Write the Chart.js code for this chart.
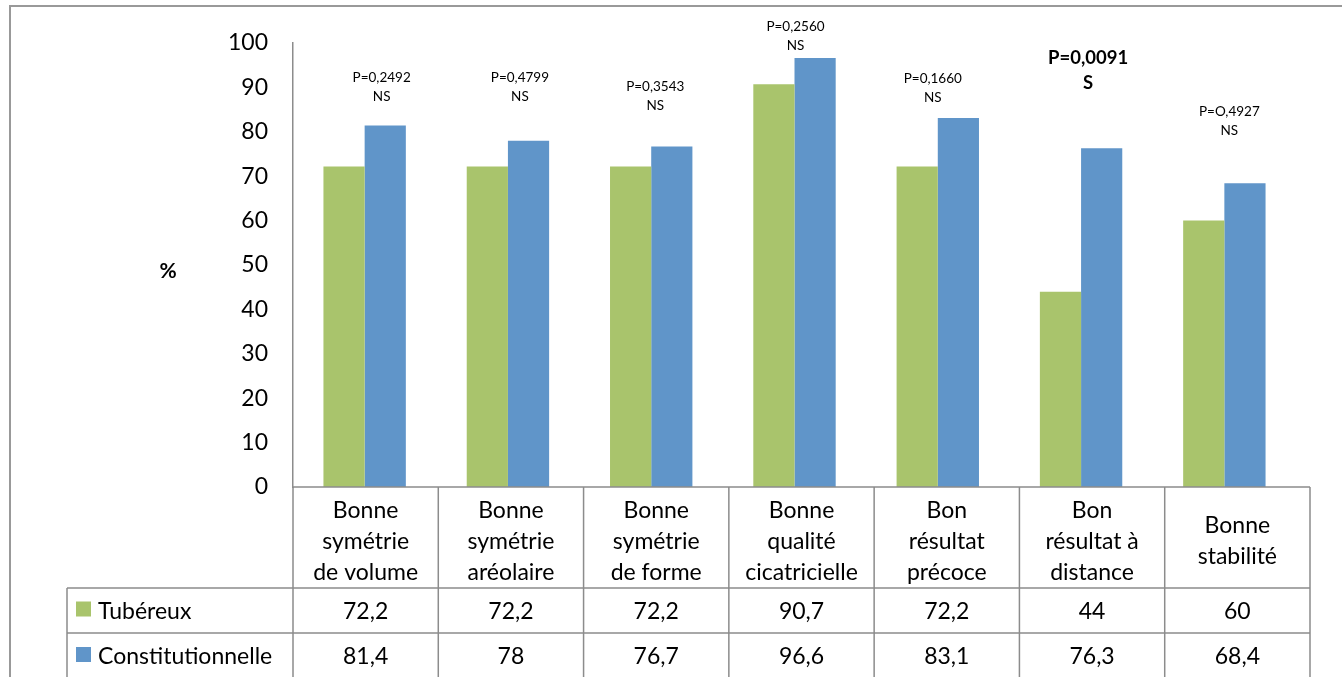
<!DOCTYPE html>
<html>
<head>
<meta charset="utf-8">
<script src="https://cdn.jsdelivr.net/npm/chart.js@4"></script>
<style>
html,body{margin:0;padding:0;background:#fff;}
#wrap{position:relative;width:1342px;height:677px;}
</style>
</head>
<body>
<div id="wrap"><canvas id="c" width="1342" height="677"></canvas></div>
<script>
const categories = [
  ["Bonne","symétrie","de volume"],
  ["Bonne","symétrie","aréolaire"],
  ["Bonne","symétrie","de forme"],
  ["Bonne","qualité","cicatricielle"],
  ["Bon","résultat","précoce"],
  ["Bon","résultat à","distance"],
  ["Bonne","stabilité"]
];
const seriesNames = ["Tubéreux", "Constitutionnelle"];
const tubereux = [72.2, 72.2, 72.2, 90.7, 72.2, 44, 60];
const constitutionnelle = [81.4, 78, 76.7, 96.6, 83.1, 76.3, 68.4];
const pValues = ["P=0,2492","P=0,4799","P=0,3543","P=0,2560","P=0,1660","P=0,0091","P=O,4927"];
const significance = ["NS","NS","NS","NS","NS","S","NS"];
const significant = [false,false,false,false,false,true,false];
const yTicks = [0,10,20,30,40,50,60,70,80,90,100];

// annotation placement (value units for y, px offsets for x)
const annotY = [92.1, 92.1, 90.1, 103.6, 91.9, 96.6, 84.5];
const annotDx = [17, 12, 4, 1, -5, 7, 5];

const GREEN = '#A9C46C';
const BLUE = '#6095C9';
const FONT = 'Lato, "Open Sans", "Liberation Sans", sans-serif';
const LINE = '#8c8c8c';

const fmt = v => String(v).replace('.', ',');

const tablePlugin = {
  id: 'tablePlugin',
  afterDraw(chart) {
    const ctx = chart.ctx;
    const x = chart.scales.x, y = chart.scales.y;
    const ca = chart.chartArea;
    const n = categories.length;
    const tLeft = ca.left, tRight = 1310;
    const colW = (tRight - tLeft) / n;
    const top = ca.bottom;
    const rowLab = top + 101;
    const row1 = rowLab + 45;
    const bottom = 700;
    const legLeft = 67;
    ctx.save();
    // outer border
    ctx.strokeStyle = '#999';
    ctx.lineWidth = 2;
    ctx.beginPath();
    ctx.moveTo(10, 700); ctx.lineTo(10, 6); ctx.lineTo(1345, 6);
    ctx.stroke();

    ctx.strokeStyle = LINE;
    ctx.lineWidth = 1.5;
    ctx.beginPath();
    ctx.moveTo(tLeft, top); ctx.lineTo(tRight, top);
    ctx.moveTo(legLeft, rowLab); ctx.lineTo(tRight, rowLab);
    ctx.moveTo(legLeft, row1); ctx.lineTo(tRight, row1);
    ctx.moveTo(legLeft, rowLab); ctx.lineTo(legLeft, bottom);
    for (let i = 0; i <= n; i++) {
      const xx = tLeft + i * colW;
      ctx.moveTo(xx, top); ctx.lineTo(xx, bottom);
    }
    ctx.stroke();

    // category labels
    ctx.fillStyle = '#000';
    ctx.textAlign = 'center';
    ctx.textBaseline = 'middle';
    ctx.font = '23px ' + FONT;
    const lh = 31;
    categories.forEach((lines, i) => {
      const cx = tLeft + (i + 0.5) * colW;
      const midY = (top + rowLab) / 2 + 4;
      const startY = midY - (lines.length - 1) * lh / 2;
      lines.forEach((t, k) => ctx.fillText(t, cx, startY + k * lh));
    });
    // values
    const series = [tubereux, constitutionnelle];
    const rowsY = [(rowLab + row1) / 2 + 1, row1 + 24];
    series.forEach((vals, s) => {
      vals.forEach((v, i) => {
        const cx = tLeft + (i + 0.5) * colW;
        ctx.fillText(fmt(v), cx, rowsY[s]);
      });
    });
    // legend keys
    const cols = [GREEN, BLUE];
    ctx.textAlign = 'left';
    seriesNames.forEach((name, s) => {
      ctx.fillStyle = cols[s];
      ctx.fillRect(76, rowsY[s] - 10, 15, 15);
      ctx.fillStyle = '#000';
      ctx.fillText(name, 98, rowsY[s]);
    });

    // % label
    ctx.textAlign = 'center';
    ctx.font = 'bold 21px ' + FONT;
    ctx.fillText('%', 168, (ca.top + ca.bottom) / 2 + 6);

    // p-value annotations
    pValues.forEach((p, i) => {
      const cx = x.getPixelForValue(i) + annotDx[i];
      const py = y.getPixelForValue(annotY[i]);
      if (significant[i]) {
        ctx.font = 'bold 18.5px ' + FONT;
        ctx.fillText(p, cx, py);
        ctx.fillText(significance[i], cx, py + 25);
      } else {
        ctx.font = '13.5px ' + FONT;
        ctx.fillText(p, cx, py);
        ctx.fillText(significance[i], cx, py + 19);
      }
    });
    ctx.restore();
  }
};

new Chart(document.getElementById('c'), {
  type: 'bar',
  data: {
    labels: categories,
    datasets: [
      { label: seriesNames[0], data: tubereux, backgroundColor: GREEN, borderWidth: 0 },
      { label: seriesNames[1], data: constitutionnelle, backgroundColor: BLUE, borderWidth: 0 }
    ]
  },
  options: {
    responsive: false,
    animation: false,
    layout: { padding: { left: 0, right: 46, top: 43, bottom: 190 } },
    plugins: { legend: { display: false }, tooltip: { enabled: false } },
    datasets: { bar: { categoryPercentage: 0.575, barPercentage: 1.0 } },
    scales: {
      x: { display: false },
      y: {
        min: 0, max: 100,
        afterFit(scale) { scale.width = 293; },
        afterBuildTicks(scale) { scale.ticks = yTicks.map(v => ({ value: v })); },
        grid: { display: false, drawTicks: false },
        border: { display: true, color: LINE, width: 1.5 },
        ticks: { padding: 25, color: '#000', font: { family: FONT, size: 23 } }
      }
    }
  },
  plugins: [tablePlugin]
});
</script>
</body>
</html>
